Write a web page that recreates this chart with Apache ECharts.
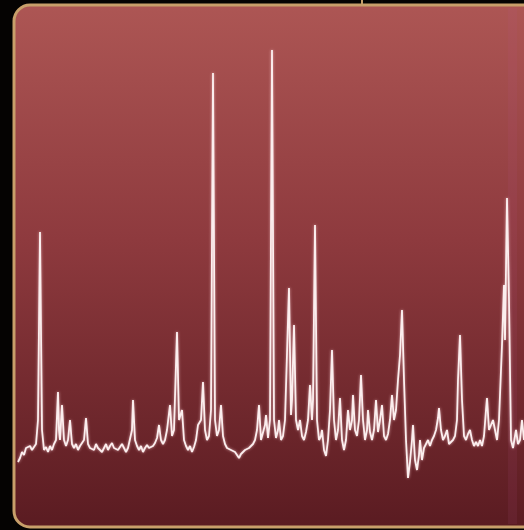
<!DOCTYPE html>
<html>
<head>
<meta charset="utf-8">
<style>
  html, body { margin: 0; padding: 0; background: #050302; }
  #chart { width: 524px; height: 530px; }
</style>
<script src="https://cdn.jsdelivr.net/npm/echarts@6/dist/echarts.min.js"></script>
</head>
<body>
<div id="chart"></div>
<script>
// Sample index (x) and signal intensity (y)
const sampleIdx = [
  0,2,4,6,8,10,12,14,16,18,20,22,24,26,28,30,32,34,36,38,40,41,42,44,46,48,50,52,54,56,58,60,62,64,66,68,70,72,74,76,78,80,82,84,86,88,90,92,94,96,98,100,
  102,104,106,108,110,112,114,115,117,119,121,123,125,127,129,131,133,135,137,139,141,143,145,147,149,152,154,156,159,161,164,166,168,170,172,174,176,178,180,183,185,187,189,191,193,195,197,199,201,203,205,
  207,209,211,213,215,217,219,221,223,225,227,229,231,233,235,237,239,241,243,245,247,248,250,252,254,256,258,260,261,263,265,267,269,271,273,274,276,278,280,282,284,286,288,290,292,294,295,297,299,301,303,304,306,308,310,
  312,314,316,318,320,322,324,326,328,330,332,334,335,337,339,341,343,345,347,349,350,352,354,356,358,360,362,364,366,368,370,372,374,376,378,380,382,384,386,388,390,392,394,395,397,399,401,402,404,406,408,410,
  412,414,416,418,420,421,423,425,427,429,431,433,435,437,439,440,442,444,446,448,450,452,454,456,458,460,462,464,466,468,469,471,473,475,477,479,481,484,486,487,489,491,493,495,497,498,500,502,504,506
];
const intensity = [
  68,72,78,75,82,80,84,80,83,86,110,298,100,80,83,78,84,80,86,90,138,100,90,125,90,84,90,110,86,82,86,80,84,86,90,112,86,82,84,80,86,82,84,
  78,82,86,80,84,87,82,84,80,83,86,82,78,82,84,100,130,90,84,80,84,78,82,85,82,80,84,87,92,105,90,86,90,100,125,94,100,198,110,120,90,84,80,84,78,83,90,105,110,148,100,90,94,120,457,110,94,100,125,94,
  86,82,84,80,82,78,75,72,76,74,80,78,82,84,86,90,100,125,90,92,105,115,92,110,480,110,92,100,110,90,94,110,110,242,115,130,205,110,100,110,94,90,98,110,145,110,130,305,110,90,94,100,80,74,90,
  120,180,110,90,100,132,90,80,90,120,100,110,135,100,94,110,155,110,90,100,120,98,90,100,130,98,110,125,94,90,96,110,135,110,120,150,175,220,150,90,52,68,
  90,105,70,60,75,90,70,82,86,90,84,90,94,100,112,122,100,90,94,100,86,84,90,94,110,150,195,130,94,90,96,100,90,84,88,84,90,84,94,120,132,100,105,110,100,90,110,185,245,190,332,230,90,82,94,100,86,90,110,90
];

const seriesData = sampleIdx.map((x, i) => [x, intensity[i]]);

const chart = echarts.init(document.getElementById('chart'), null, { renderer: 'canvas' });
chart.setOption({
  animation: false,
  backgroundColor: '#050302',
  grid: { left: 18, right: 0, top: 0, bottom: 0, show: false },
  xAxis: { type: 'value', min: 0, max: 506, show: false },
  yAxis: { type: 'value', min: 0, max: 530, show: false },
  graphic: [
    {
      type: 'rect', z: 0,
      shape: { x: 14, y: 5, width: 560, height: 522, r: 16 },
      style: {
        fill: new echarts.graphic.LinearGradient(0, 0, 0, 1, [
          { offset: 0, color: '#ad5654' },
          { offset: 0.45, color: '#8e3a3e' },
          { offset: 1, color: '#5a1b21' }
        ]),
        stroke: '#c89f6a',
        lineWidth: 3
      }
    },
    {
      type: 'rect', z: 1,
      shape: { x: 508, y: 8, width: 9, height: 516 },
      style: { fill: 'rgba(190,90,150,0.1)' }
    },
    {
      type: 'line', z: 1,
      shape: { x1: 362, y1: 0, x2: 362, y2: 5 },
      style: { stroke: '#c89f6a', lineWidth: 2 }
    }
  ],
  series: [{
    type: 'line',
    z: 5,
    data: seriesData,
    symbol: 'none',
    smooth: false,
    lineStyle: {
      color: '#fbeeee',
      width: 1.8,
      shadowColor: 'rgba(255,210,215,0.7)',
      shadowBlur: 3
    }
  }]
});
</script>
</body>
</html>
